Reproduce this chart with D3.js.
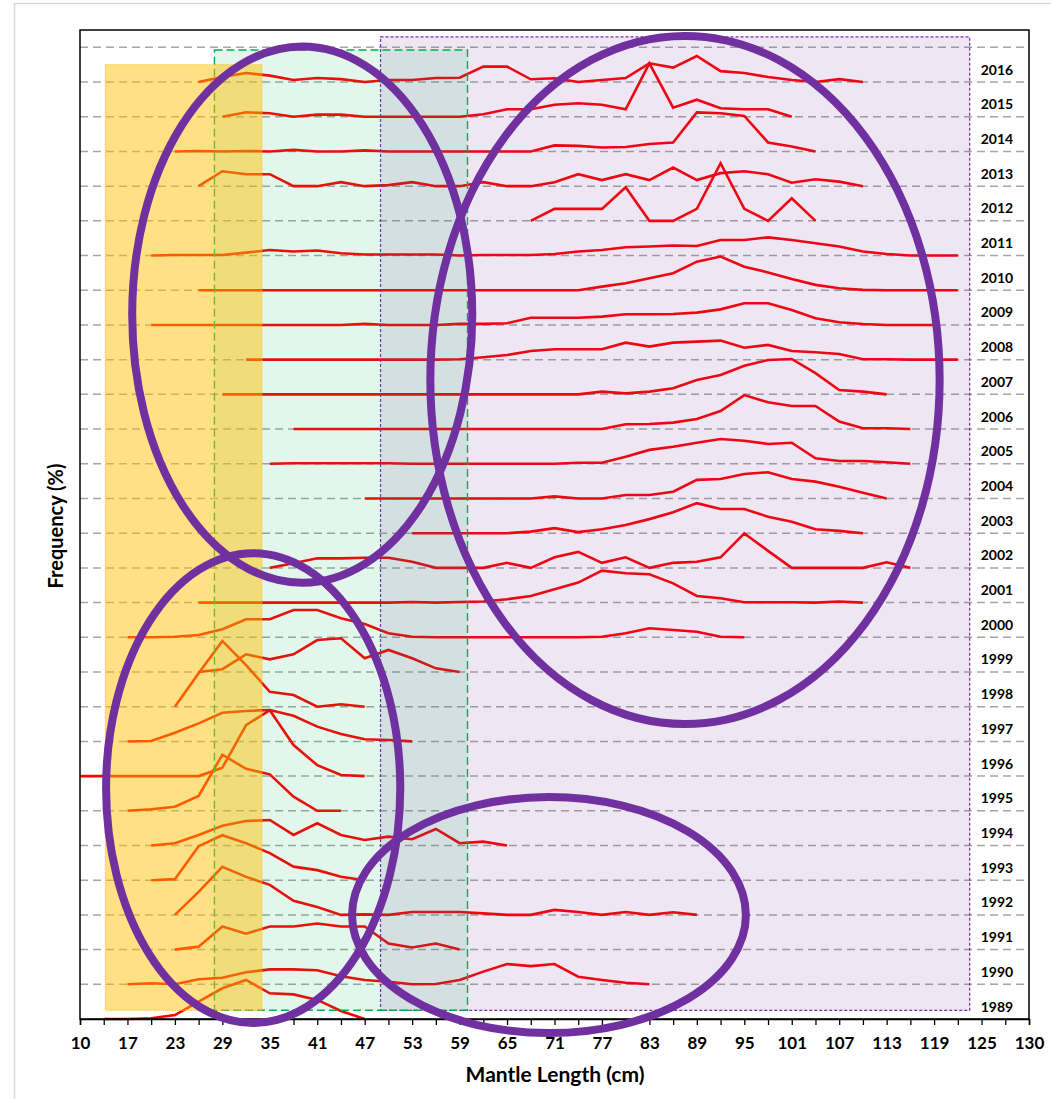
<!DOCTYPE html>
<html>
<head>
<meta charset="utf-8">
<script src="https://cdn.jsdelivr.net/npm/d3@7"></script>
<style>
  body { margin: 0; background: #fff; }
  text { font-family: Lato, "Liberation Sans", sans-serif; font-weight: bold; fill: #000; }
</style>
</head>
<body>
<svg id="chart" width="1051" height="1099"></svg>
<script>
// ---- data ----
var years = d3.range(1989, 2017);
var yearStep = 20; // each year is shifted up by 20 % on the frequency axis

// first mantle length class (cm) of each year, 1989 .. 2016
var firstLength = [14,17,23,23,20,20,17,11,17,23,26,17,26,35,53,47,35,38,29,32,20,26,20,68,26,23,29,26];

// frequency (%) per 3 cm class, starting at firstLength
var f1989 = [0,0,0.4,2.3,10.0,17.7,22.5,14.8,14.2,11.0,4.6,0];
var f1990 = [0,0.6,0,2.9,3.8,6.9,8.6,8.6,8.1,4.6,2.5,1.5,0,0.2,2.5,7.3,11.7,10.5,11.7,4.4,2.5,0.9,0];
var f1991 = [0,1.7,13.3,9.2,13.3,13.3,15.0,13.3,13.3,3.5,1.2,3.5,0];
var f1992 = [0,13.3,27.7,21.9,17.3,8.1,4.6,0,0.3,0,1.7,1.7,1.7,0.9,0,0,2.9,1.7,0,1.7,0,1.5,0];
var f1993 = [0,0.6,19.6,25.9,21.3,15.6,7.8,5.8,2.0,0];
var f1994 = [0,1.3,6.1,11.4,14.1,14.7,6.1,12.8,6.1,3.2,5.1,3.6,9.5,1.3,2.2,0];
var f1995 = [0,0.9,2.3,8.6,32.3,24.2,21.0,8.1,0,0];
var f1996 = [0,0,0,0,0,0,4.8,29.4,38.0,17.9,6.3,0.6,0];
var f1997 = [0,0.2,5.0,10.4,16.5,17.5,18.1,14.8,8.5,4.3,1.2,0.8,0];
var f1998 = [0,19.3,37.9,24.0,8.6,6.7,0,1.4,0];
var f1999 = [0,1.6,10.2,7.3,10.2,18.4,19.4,7.9,12.7,7.9,2.1,0];
var f2000 = [0,0,0.3,1.3,4.6,10.4,10.4,15.7,15.7,11.0,7.7,2.3,0.3,0,0,0,0,0,0,0,0.3,2.3,5.2,4.2,3.2,0.3,0];
var f2001 = [0,0,0,0,0,0,0,0,0,0.3,0,0.3,0.6,1.9,3.8,7.7,11.5,18.4,16.9,16.3,11.1,3.8,2.5,0.2,0.2,0.2,0,0.6,0];
var f2002 = [0,2.7,5.5,5.5,5.8,5.8,3.5,0,0,0,2.9,0,6.1,9.2,2.9,6.1,0,2.9,3.5,6.1,19.9,9.8,0,0,0,0,3.2,0];
var f2003 = [0,0,0,0,0,0.9,2.9,0.6,2.3,4.7,8.1,12.1,17.3,13.9,13.9,9.5,6.6,2.3,1.3,0];
var f2004 = [0,0,0,0,0,0,0,0,1.2,0,0,2.0,2.0,3.9,10.7,11.2,14.1,15.1,11.2,9.7,6.8,3.3,0];
var f2005 = [0,0.3,0.3,0.3,0.3,0.3,0,0,0,0,0,0,0,0.6,0.6,4.0,8.0,9.8,12.1,14.3,13.3,11.4,12.1,3.2,1.6,1.6,0.9,0];
var f2006 = [0,0,0,0,0,0,0,0,0,0,0,0,0,0,2.8,2.9,3.7,5.8,10.4,19.6,15.4,13.3,13.3,4.3,0.5,0.5,0];
var f2007 = [0,0,0,0,0,0,0,0,0,0,0,0,0,0,0,0,1.6,0.6,1.6,3.5,8.3,11.2,16.5,19.8,20.4,12.2,2.5,1.6,0];
var f2008 = [0,0,0,0,0,0,0,0,0,0.2,1.4,2.7,5.0,6.0,6.0,6.0,9.8,7.5,9.8,10.4,11.0,6.9,8.5,5.0,4.3,3.3,0.2,0.2,0,0,0];
var f2009 = [0,0,0,0,0,0,0,0,0,0.6,0,0,0,0.6,0.6,1.0,4.2,4.2,4.2,4.8,6.2,6.2,6.3,7.1,9.0,12.5,12.5,8.6,3.9,1.6,0.6,0,0,0];
var f2010 = [0,0,0,0,0,0,0,0,0,0,0,0,0,0,0,0,0,2.1,4.0,6.9,9.8,16.5,19.4,13.6,10.3,6.5,3.1,1.2,0.2,0,0,0,0];
var f2011 = [0,0.3,0.3,0.3,1.7,3.2,2.3,2.9,1.3,0.6,0.6,0.6,0.6,0,0.3,0.3,0.3,0.9,2.3,3.2,4.8,5.2,5.8,5.5,9.0,9.0,10.5,9.0,7.1,5.2,2.3,0.9,0,0,0];
var f2012 = [0,6.9,6.9,6.9,19.4,0,0,6.9,33.2,6.9,0,13.0,0];
var f2013 = [0,8.6,6.9,6.9,0,0,2.3,0,0.6,2.3,0,0,2.3,0,0,2.3,6.9,3.5,6.9,3.5,10.7,3.5,7.5,8.6,6.9,2.0,4.0,2.6,0];
var f2014 = [0,0.3,0,0.3,0,0.9,0,0,0.6,0,0,0,0,0,0,0,3.5,3.2,2.3,2.6,4.3,5.2,22.5,22.0,20.5,5.2,2.9,0];
var f2015 = [0,2.6,2.0,0,1.2,1.2,0,0,0,0,0,1.4,4.3,4.3,6.9,7.8,6.9,4.3,30.8,5.2,9.8,4.9,4.3,4.3,0];
var f2016 = [0,2.9,5.2,3.7,1.2,2.3,1.7,0,1.2,1.2,2.3,2.5,8.9,8.9,1.6,2.2,0,1.2,2.3,10.8,8.3,15.0,6.3,5.2,2.9,1.2,0,1.7,0];

var freqs = [f1989,f1990,f1991,f1992,f1993,f1994,f1995,f1996,f1997,f1998,f1999,f2000,f2001,f2002,
             f2003,f2004,f2005,f2006,f2007,f2008,f2009,f2010,f2011,f2012,f2013,f2014,f2015,f2016];

var xTickLabels = ["10","17","23","29","35","41","47","53","59","65","71","77","83","89","95","101","107","113","119","125","130"];

// ---- layout ----
var margin = {left: 80, top: 30, right: 1029, bottom: 1019};

var svg = d3.select("#chart");

var x = d3.scaleLinear().domain([11, 131]).range([margin.left, margin.right]);
var y = d3.scaleLinear().domain([0, 570]).range([margin.bottom, margin.top]);

// outer frame
svg.append("rect")
  .attr("x", 14.5).attr("y", 3.5)
  .attr("width", 1050).attr("height", 1110)
  .attr("fill", "none").attr("stroke", "#d9d9d9").attr("stroke-width", 1.5);

// dashed year baselines
svg.append("g")
  .selectAll("line")
  .data(d3.range(1, 29))
  .enter().append("line")
  .attr("x1", margin.left).attr("x2", margin.right)
  .attr("y1", function(d) { return y(d * yearStep); })
  .attr("y2", function(d) { return y(d * yearStep); })
  .attr("stroke", "#a6a6a6").attr("stroke-width", 1.5)
  .attr("stroke-dasharray", "8,5");

// frequency lines
var series = years.map(function(yr, i) {
  return freqs[i].map(function(f, j) {
    return {len: firstLength[i] + 3 * j, v: i * yearStep + f};
  });
});

var line = d3.line()
  .x(function(d) { return x(d.len); })
  .y(function(d) { return y(d.v); });

svg.append("g")
  .selectAll("path")
  .data(series)
  .enter().append("path")
  .attr("d", line)
  .attr("fill", "none")
  .attr("stroke", "#ff0000")
  .attr("stroke-width", 2.6);

// shaded size groups (drawn over the lines, semi transparent)
var zones = [
  {x0: 49, x1: 123.5, y0: 5, y1: 566, fill: "#7030a0", op: 0.12, stroke: "#7030a0", dash: "3,2", sw: 1.2},
  {x0: 28, x1: 60, y0: 5, y1: 558.5, fill: "#00b050", op: 0.11, stroke: "#00b050", dash: "8,4", sw: 1.4},
  {x0: 14.2, x1: 34, y0: 5, y1: 550, fill: "#ffc000", op: 0.48, stroke: "#ffc000", dash: "1,1", sw: 1}
];

svg.append("g")
  .selectAll("rect")
  .data(zones)
  .enter().append("rect")
  .attr("x", function(d) { return x(d.x0); })
  .attr("y", function(d) { return y(d.y1); })
  .attr("width", function(d) { return x(d.x1) - x(d.x0); })
  .attr("height", function(d) { return y(d.y0) - y(d.y1); })
  .attr("fill", function(d) { return d.fill; })
  .attr("fill-opacity", function(d) { return d.op; })
  .attr("stroke", function(d) { return d.stroke; })
  .attr("stroke-width", function(d) { return d.sw; })
  .attr("stroke-dasharray", function(d) { return d.dash; });

// plot frame
svg.append("rect")
  .attr("x", margin.left).attr("y", margin.top)
  .attr("width", margin.right - margin.left)
  .attr("height", margin.bottom - margin.top)
  .attr("fill", "none").attr("stroke", "#000").attr("stroke-width", 1.5);

// x axis
var xAxis = d3.axisBottom(x)
  .tickValues(d3.range(11, 132, 3))
  .tickSize(6)
  .tickFormat(function(d, i) { return i % 2 === 0 ? xTickLabels[i / 2] : ""; });

var gx = svg.append("g")
  .attr("transform", "translate(0," + margin.bottom + ")")
  .call(xAxis);
gx.select(".domain").attr("stroke", "#000").attr("stroke-width", 1.5);
gx.selectAll(".tick line").attr("stroke", "#000").attr("stroke-width", 1.3);
gx.selectAll(".tick text")
  .attr("y", 18)
  .style("font-size", "17px")
  .style("font-family", "Lato, 'Liberation Sans', sans-serif")
  .style("font-weight", "bold")
  .attr("fill", "#000");

// year labels
svg.append("g")
  .selectAll("text")
  .data(years)
  .enter().append("text")
  .attr("x", 997)
  .attr("y", function(d, i) { return y(i * yearStep) - 13; })
  .attr("text-anchor", "middle")
  .attr("dominant-baseline", "central")
  .style("font-size", "14px")
  .text(function(d) { return d; });

// highlighted groups (ellipses): centre length, centre value, radius in cm, radius in %
var rings = [
  [39.1, 406, 21.5, 154.5],
  [87.5, 368.3, 32.2, 198.3],
  [32.9, 133.1, 18.6, 135.4],
  [70.3, 59.9, 24.9, 68]
];

svg.append("g")
  .selectAll("ellipse")
  .data(rings)
  .enter().append("ellipse")
  .attr("cx", function(d) { return x(d[0]); })
  .attr("cy", function(d) { return y(d[1]); })
  .attr("rx", function(d) { return x(d[0] + d[2]) - x(d[0]); })
  .attr("ry", function(d) { return y(d[1] - d[3]) - y(d[1]); })
  .attr("fill", "none")
  .attr("stroke", "#7030a0")
  .attr("stroke-width", 8);

// axis titles
svg.append("text")
  .attr("x", 555).attr("y", 1082)
  .attr("text-anchor", "middle")
  .style("font-size", "21px")
  .text("Mantle Length (cm)");

svg.append("text")
  .attr("transform", "translate(55,526) rotate(-90)")
  .attr("text-anchor", "middle")
  .attr("dominant-baseline", "central")
  .style("font-size", "20px")
  .text("Frequency (%)");
</script>
</body>
</html>
